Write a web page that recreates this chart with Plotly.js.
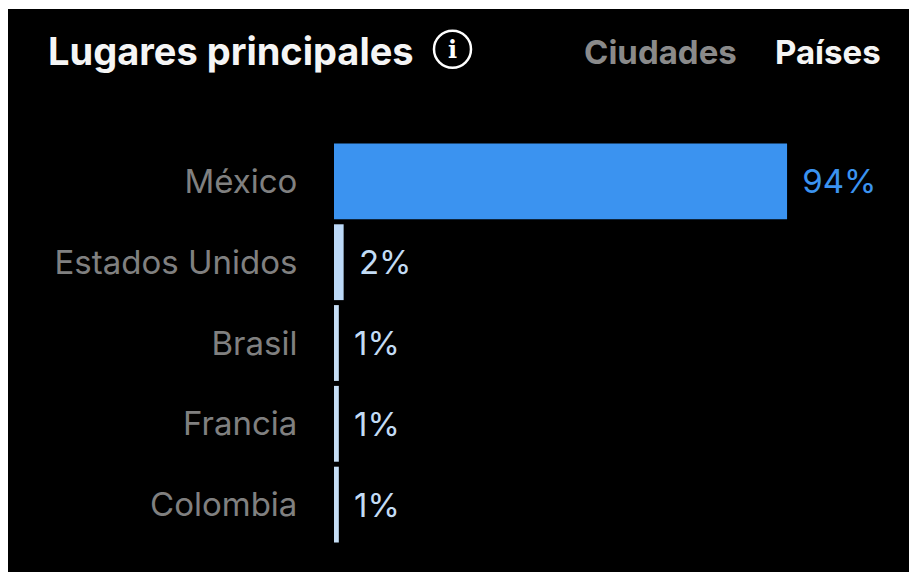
<!DOCTYPE html>
<html><head><meta charset="utf-8">
<script src="https://cdn.plot.ly/plotly-3.0.1.min.js"></script>
<style>html,body{margin:0;padding:0;background:#fff;overflow:hidden}
#c{position:absolute;left:8px;top:9px;width:901px;height:563px}</style></head>
<body><div id="c"></div>
<script>
const places=["México","Estados Unidos","Brasil","Francia","Colombia"];
const shares=[94,2,1,1,1];
const shareLabels=["\u00a0\u200a94%","\u00a0\u200a2%","\u00a0\u200a1%","\u00a0\u200a1%","\u00a0\u200a1%"];
const barColors=["#3b93f0","#bcd9f8","#c6def6","#c6def6","#c6def6"];
const labelColors=["#3b93f0","#c3dcf5","#c3dcf5","#c3dcf5","#c3dcf5"];
const F="Inter, 'Liberation Sans', sans-serif";
const W=901,H=563,PL=334,PT=140.5,PW=575,PH=405;
function px(x){return (x-PL)/PW}
function py(y){return 1-(y-PT)/PH}
Plotly.newPlot("c",[{type:"bar",orientation:"h",y:places,x:shares,width:76/81,
 marker:{color:barColors,line:{width:0}},text:shareLabels,textposition:"outside",cliponaxis:false,constraintext:"none",
 textfont:{family:F,size:33,color:labelColors},hoverinfo:"skip"}],{
 width:W,height:H,paper_bgcolor:"#000",plot_bgcolor:"#000",showlegend:false,
 margin:{l:326,r:0,t:131.5,b:26.5,pad:0},
 xaxis:{range:[0,119.3],visible:false,fixedrange:true},
 yaxis:{autorange:"reversed",showgrid:false,zeroline:false,showline:false,ticks:"outside",ticklen:29,tickwidth:0,tickcolor:"#000",
   tickfont:{family:F,size:33,color:"#808080"},fixedrange:true},
 shapes:[{type:"circle",xref:"paper",yref:"paper",x0:px(434),x1:px(471),y0:py(67),y1:py(30),line:{color:"#fff",width:2.5},fillcolor:"rgba(0,0,0,0)"}],
 annotations:[
  {text:"<b>Lugares principales</b>",xref:"paper",yref:"paper",x:px(46),y:py(50),xanchor:"left",yanchor:"middle",showarrow:false,font:{family:F,size:38,color:"#f5f5f5"}},
  {text:"<b>i</b>",xref:"paper",yref:"paper",x:px(452.5),y:py(48.5),xanchor:"center",yanchor:"middle",showarrow:false,font:{family:"'DejaVu Serif',serif",size:24,color:"#fff"}},
  {text:"<b>Ciudades</b>",xref:"paper",yref:"paper",x:px(582),y:py(51),xanchor:"left",yanchor:"middle",showarrow:false,font:{family:F,size:33,color:"#8a8a8a"}},
  {text:"<b>Países</b>",xref:"paper",yref:"paper",x:px(773),y:py(51),xanchor:"left",yanchor:"middle",showarrow:false,font:{family:F,size:33,color:"#f5f5f5"}}
 ]},{displayModeBar:false,staticPlot:true});
</script></body></html>
